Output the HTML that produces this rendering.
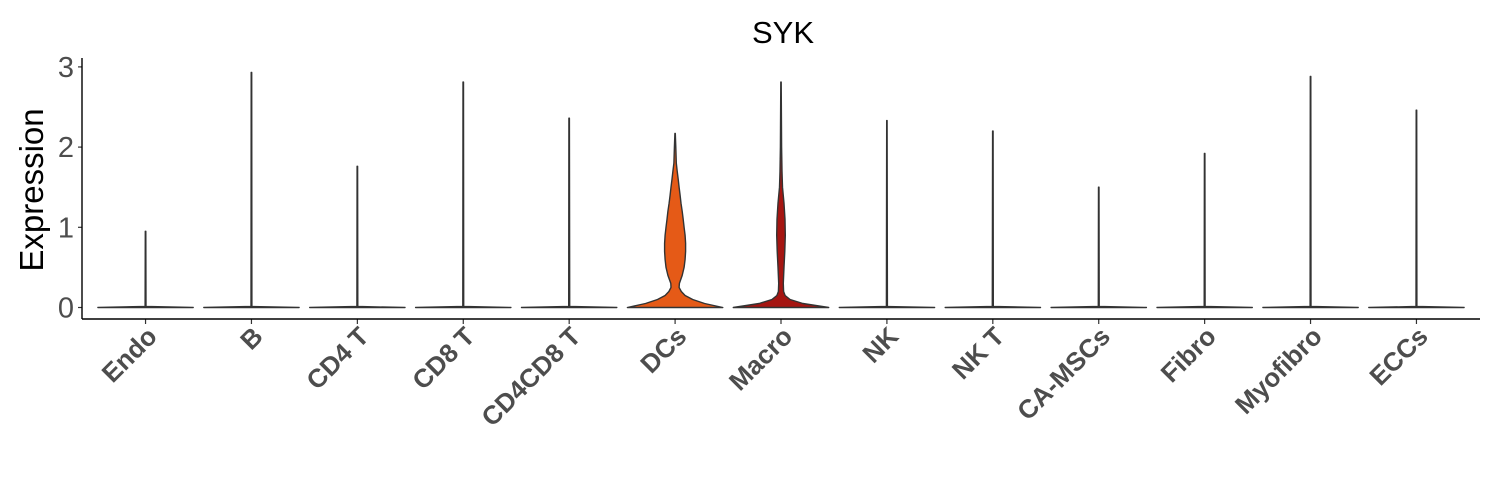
<!DOCTYPE html>
<html><head><meta charset="utf-8"><style>
body{margin:0;background:#fff;}
svg{display:block;font-family:"Liberation Sans",Arial,sans-serif;}
</style></head><body>
<svg id="chart" width="1500" height="500">
<text x="783" y="43" font-size="31" text-anchor="middle" fill="#000">SYK</text>
<text transform="translate(43,190) rotate(-90)" font-size="33" text-anchor="middle" fill="#000">Expression</text>
<g id="plot"></g>
</svg>
<script>
const categories=["Endo","B","CD4 T","CD8 T","CD4CD8 T","DCs","Macro","NK","NK T","CA-MSCs","Fibro","Myofibro","ECCs"];
const maxValues=[0.95,2.93,1.76,2.81,2.36,2.17,2.81,2.33,2.2,1.5,1.92,2.88,2.46];
const fills=["#ffffff","#ffffff","#ffffff","#ffffff","#ffffff","#E55A17","#A51511","#ffffff","#ffffff","#ffffff","#ffffff","#ffffff","#ffffff"];
const dcsLevels=[0,0.05,0.1,0.15,0.2,0.25,0.3,0.4,0.5,0.6,0.7,0.8,0.9,1.0,1.1,1.2,1.3,1.4,1.5,1.6,1.7,1.8,2.0];
const dcsDensity=[1,0.62,0.37,0.21,0.13,0.085,0.09,0.15,0.19,0.21,0.22,0.22,0.21,0.19,0.17,0.15,0.125,0.105,0.085,0.065,0.045,0.025,0.015];
const macroLevels=[0,0.05,0.1,0.15,0.2,0.3,0.5,0.7,0.9,1.1,1.3,1.5,1.7,2.0];
const macroDensity=[1,0.46,0.19,0.085,0.055,0.048,0.063,0.08,0.09,0.083,0.063,0.032,0.021,0.013];
const flatLevels=[0,0.012];
const flatDensity=[1,0.01];
const yTicks=[0,1,2,3];

const x0=82,x1=1480,yTop=58,yBot=319;
const bw=(x1-x0)/(categories.length-1+1.2);
const xs=i=>x0+(0.6+i)*bw;
const ys=v=>307.5-v*80.2;
const halfMax=0.45*bw;
const NS='http://www.w3.org/2000/svg';
const g=document.getElementById('plot');
function mk(t,a){const e=document.createElementNS(NS,t);for(const k in a)e.setAttribute(k,a[k]);g.appendChild(e);return e;}

categories.forEach((c,i)=>{
  let lv,dn;
  if(c==="DCs"){lv=dcsLevels;dn=dcsDensity;}
  else if(c==="Macro"){lv=macroLevels;dn=macroDensity;}
  else{lv=flatLevels;dn=flatDensity;}
  const L=lv.concat([maxValues[i]]),D=dn.concat([0.005]);
  const cx=xs(i);
  let r=[],l=[];
  for(let k=0;k<L.length;k++){r.push((cx+D[k]*halfMax).toFixed(1)+','+ys(L[k]).toFixed(1));l.unshift((cx-D[k]*halfMax).toFixed(1)+','+ys(L[k]).toFixed(1));}
  const p=mk('polygon',{points:r.concat(l).join(' '),fill:fills[i],stroke:'#333',"stroke-width":1.4,"stroke-linejoin":"round"});
  
  
  const t=mk('line',{x1:cx,x2:cx,y1:yBot,y2:yBot+5,stroke:'#333',"stroke-width":1.2});
  
  
  const lb=mk('text',{transform:`translate(${cx+13},${yBot+19}) rotate(-45)`,"text-anchor":"end","font-size":26,"font-weight":"bold",fill:'#4d4d4d'});
  lb.textContent=c;
  
  
});
yTicks.forEach(v=>{
  const t=mk('line',{x1:x0-4,x2:x0,y1:ys(v),y2:ys(v),stroke:'#333',"stroke-width":1.2});
  
  
  const lb=mk('text',{x:x0-8,y:ys(v)+10,"text-anchor":"end","font-size":29,fill:'#4d4d4d'});
  lb.textContent=v;
  
  
});
const ya=mk('line',{x1:x0,x2:x0,y1:yTop,y2:yBot,stroke:'#000',"stroke-width":1.4});


const xa=mk('line',{x1:x0,x2:x1,y1:yBot,y2:yBot,stroke:'#000',"stroke-width":1.4});


</script>
</body></html>
